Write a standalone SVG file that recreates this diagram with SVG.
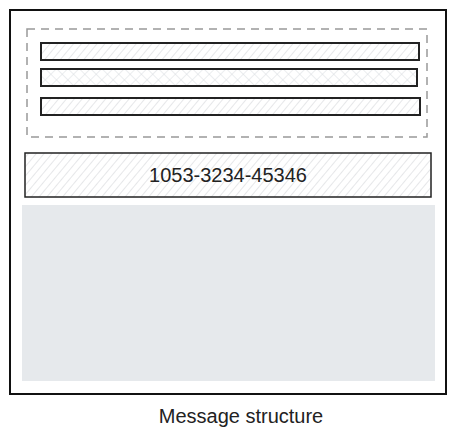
<svg xmlns="http://www.w3.org/2000/svg" width="456" height="438" viewBox="0 0 456 438">
<style>
.bar{stroke:#222;stroke-width:2}
.lbl{font-family:"Liberation Sans",Arial,sans-serif;fill:#222;text-anchor:middle}
</style>
<defs>
<pattern id="hatch" width="6" height="6" patternUnits="userSpaceOnUse" patternTransform="rotate(40)">
<rect width="6" height="6" fill="#fff"/>
<line x1="0" y1="0" x2="0" y2="6" stroke="#cdd0d4" stroke-width="1"/>
</pattern>
<pattern id="cross" width="8" height="8" patternUnits="userSpaceOnUse" patternTransform="rotate(45)">
<rect width="8" height="8" fill="#fff"/>
<line x1="0" y1="0" x2="0" y2="8" stroke="#d8dce0" stroke-width="1"/>
<line x1="0" y1="0" x2="8" y2="0" stroke="#d8dce0" stroke-width="1"/>
</pattern>
</defs>
<g id="frame"><rect x="10" y="10" width="436" height="384" fill="#fff" stroke="#111" stroke-width="2"/></g>
<g id="header"><rect x="27" y="29" width="400" height="108" fill="none" stroke="#999" stroke-width="1.5" stroke-dasharray="8,6"/></g>
<g id="bar1"><rect class="bar" x="41" y="43" width="378" height="17" fill="url(#hatch)"/></g>
<g id="bar2"><rect class="bar" x="41" y="69" width="376" height="17" fill="url(#cross)"/></g>
<g id="bar3"><rect class="bar" x="41" y="98" width="379" height="17" fill="url(#hatch)"/></g>
<g id="number"><rect x="25" y="153" width="406" height="44" fill="url(#hatch)" stroke="#222" stroke-width="1.5"/>
<text class="lbl" x="228" y="182" font-size="20">1053-3234-45346</text></g>
<g id="body"><rect x="22" y="205" width="413" height="176" fill="#e6e9ec"/></g>
<g id="caption"><text class="lbl" x="241" y="423" font-size="20">Message structure</text></g>
</svg>
